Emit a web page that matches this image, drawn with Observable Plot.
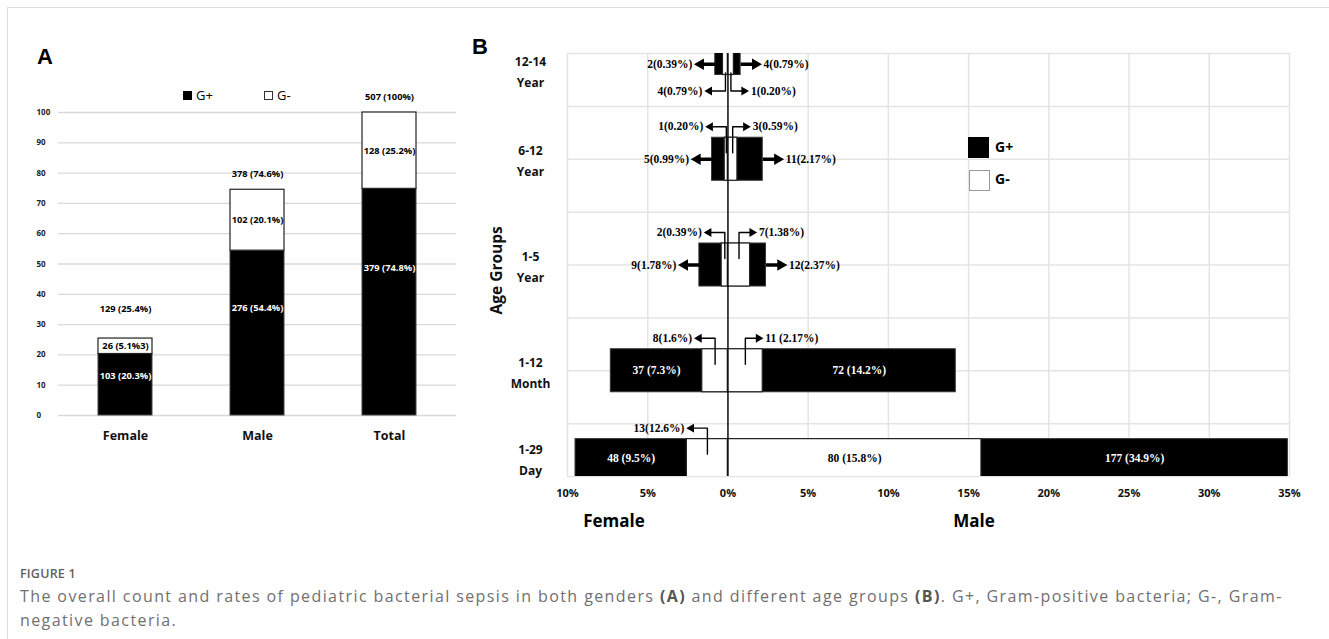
<!DOCTYPE html>
<html>
<head>
<meta charset="utf-8">
<script src="https://cdn.jsdelivr.net/npm/d3@7"></script>
<script src="https://cdn.jsdelivr.net/npm/@observablehq/plot@0.6"></script>
<style>
  html, body { margin: 0; padding: 0; background: #fff; }
  #fig { position: relative; width: 1329px; height: 639px; overflow: hidden; font-family: "Open Sans", sans-serif; }
  .frame { position: absolute; left: 7px; top: 7px; right: -5px; bottom: -5px; border-left: 1.5px solid #dcdcdc; border-top: 1.5px solid #dcdcdc; }
  .abs { position: absolute; }
  .panel-letter { position: absolute; font-family: "Liberation Sans", Arial, sans-serif; font-weight: bold; font-size: 22px; color: #000; line-height: 1; }
  .sw { position: absolute; box-sizing: border-box; }
  .leg { position: absolute; line-height: 1; color: #000; }
  svg { overflow: visible; }
</style>
</head>
<body>
<div id="fig">
  <div class="frame"></div>
  <div id="panelA" class="abs" style="left:0;top:0;"></div>
  <div id="panelB" class="abs" style="left:470px;top:0;"></div>

  <div class="panel-letter" style="left:37px;top:46px;">A</div>
  <div class="panel-letter" style="left:472px;top:36px;">B</div>

  <!-- legend A -->
  <div class="sw" style="left:183px;top:91px;width:9px;height:9px;background:#000;"></div>
  <div class="leg" style="left:196px;top:89px;font-size:13px;">G+</div>
  <div class="sw" style="left:264px;top:91px;width:9px;height:9px;background:#fff;border:1px solid #333;"></div>
  <div class="leg" style="left:277px;top:89px;font-size:13px;">G-</div>

  <!-- legend B -->
  <div class="sw" style="left:968px;top:137px;width:21px;height:21px;background:#000;"></div>
  <div class="leg" style="left:995px;top:140px;font-size:14px;font-weight:bold;">G+</div>
  <div class="sw" style="left:969px;top:170px;width:21px;height:21px;background:#fff;border:1px solid #999;"></div>
  <div class="leg" style="left:995px;top:172px;font-size:14px;font-weight:bold;">G-</div>

  <!-- gender titles under B -->
  <div class="leg" style="left:564px;top:512px;width:100px;text-align:center;font-size:17px;font-weight:bold;">Female</div>
  <div class="leg" style="left:924px;top:512px;width:100px;text-align:center;font-size:17px;font-weight:bold;">Male</div>

  <!-- caption -->
  <div class="leg" style="left:20px;top:568px;font-size:12.5px;font-weight:600;color:#5f5f5f;letter-spacing:0.2px;">FIGURE 1</div>
  <div class="leg" style="left:20px;top:584px;font-size:16px;line-height:24px;color:#707070;letter-spacing:1.4px;white-space:nowrap;">
    The overall count and rates of pediatric bacterial sepsis in both genders <b style="color:#555">(A)</b> and different age groups <b style="color:#555">(B)</b>. G+, Gram-positive bacteria; G-, Gram-<br>negative bacteria.
  </div>
</div>

<script>
// ---------------- Panel A data ----------------
const sexes = ["Female", "Male", "Total"];
const gPosA = [20.3, 54.4, 74.8];
const gNegA = [5.1, 20.1, 25.2];
const gPosLabelA = ["103 (20.3%)", "276 (54.4%)", "379 (74.8%)"];
const gNegLabelA = ["26 (5.1%3)", "102 (20.1%)", "128 (25.2%)"];
const totalLabelA = ["129 (25.4%)", "378 (74.6%)", "507 (100%)"];
const yTicksA = [0, 10, 20, 30, 40, 50, 60, 70, 80, 90, 100];

// ---------------- Panel B data ----------------
const ageGroups = ["12-14\nYear", "6-12\nYear", "1-5\nYear", "1-12\nMonth", "1-29\nDay"];
const posFemale = [0.79, 0.99, 1.78, 7.3, 9.5];
const posMale = [0.79, 2.17, 2.37, 14.2, 34.9];
const negFemale = [0.31, 0.20, 0.39, 1.6, 2.56];
const negMale = [0.37, 0.59, 1.38, 2.17, 15.8];
const posFemaleLabel = ["2(0.39%)", "5(0.99%)", "9(1.78%)", "37 (7.3%)", "48 (9.5%)"];
const posMaleLabel = ["4(0.79%)", "11(2.17%)", "12(2.37%)", "72 (14.2%)", "177 (34.9%)"];
const negFemaleLabel = ["4(0.79%)", "1(0.20%)", "2(0.39%)", "8(1.6%)", "13(12.6%)"];
const negMaleLabel = ["1(0.20%)", "3(0.59%)", "7(1.38%)", "11 (2.17%)", "80 (15.8%)"];
const xTicksB = [-10, -5, 0, 5, 10, 15, 20, 25, 30, 35];

// ---------------- Panel A ----------------
const dataA = sexes.map((s, i) => ({sex: s, pos: gPosA[i], neg: gNegA[i],
  lp: gPosLabelA[i], ln: gNegLabelA[i], lt: totalLabelA[i]}));
const topDy = [-30, -16, -15];
const fontA = "'Open Sans', sans-serif";

const plotA = Plot.plot({
  width: 470, height: 460,
  marginLeft: 58, marginRight: 14, marginTop: 112, marginBottom: 45,
  style: {background: "transparent", fontFamily: fontA, overflow: "visible"},
  x: {domain: sexes, paddingInner: 0.59, paddingOuter: 0.295, axis: null},
  y: {domain: [0, 100], axis: null},
  marks: [
    Plot.ruleY(yTicksA, {stroke: "#d9d9d9", strokeWidth: 1.3}),
    Plot.text(yTicksA, {frameAnchor: "left", y: d => d, dx: -22, text: d => String(d), textAnchor: "start",
      fontSize: 8, fontWeight: "bold", fill: "#222", fontFamily: fontA}),
    Plot.axisX({tickSize: 0, tickPadding: 16, fontSize: 12.5, fontWeight: "bold", label: null, fill: "#111"}),
    Plot.barY(dataA, {x: "sex", y1: 0, y2: "pos", fill: "#000", stroke: "#444", strokeWidth: 1}),
    Plot.barY(dataA, {x: "sex", y1: "pos", y2: d => d.pos + d.neg, fill: "#fff", stroke: "#222", strokeWidth: 1.2}),
    Plot.text(dataA, {x: "sex", y: d => d.pos * 0.65, text: "lp", fill: "#fff", fontSize: 9.3, fontWeight: "bold", fontFamily: fontA}),
    Plot.text(dataA, {x: "sex", y: d => d.pos + d.neg / 2, text: "ln", fill: "#000", fontSize: 9.3, fontWeight: "bold", fontFamily: fontA}),
    ...dataA.map((d, i) => Plot.text([d], {x: "sex", y: e => e.pos + e.neg, dy: topDy[i], text: "lt", fill: "#000", fontSize: 9.3, fontWeight: "bold", fontFamily: fontA}))
  ]
});
document.getElementById("panelA").appendChild(plotA);

// ---------------- Panel B ----------------
const W_B = 859, H_B = 540, mL = 97, mR = 40, mT = 53, mB = 64;
const kx = (W_B - mL - mR) / 45;  // px per percent
const ky = (H_B - mT - mB) / 8;   // px per grid unit
const rowCenter = [8, 6, 4, 2, 0.3];
const half = 21.5 / ky;
const fontB = "'Liberation Serif', 'Times New Roman', serif";

const rectsBlack = [], rectsWhite = [], thick = [], thinPts = [], headsThick = [], headsThin = [], txt = [];
const visMid = [];
ageGroups.forEach((g, i) => {
  const c = rowCenter[i];
  const top = Math.min(c + half, 8), bot = Math.max(c - half, 0), mid = (top + bot) / 2;
  visMid.push(mid);
  rectsBlack.push({x1: -posFemale[i], x2: 0, y1: c - half, y2: c + half});
  rectsBlack.push({x1: 0, x2: posMale[i], y1: c - half, y2: c + half});
  rectsWhite.push({x1: -negFemale[i], x2: 0, y1: c - half, y2: c + half});
  rectsWhite.push({x1: 0, x2: negMale[i], y1: c - half, y2: c + half});
  [[-1, posFemale[i], negFemale[i], posFemaleLabel[i], negFemaleLabel[i]],
   [1, posMale[i], negMale[i], posMaleLabel[i], negMaleLabel[i]]].forEach(([s, gp, gn, lp, ln]) => {
    const anchor = s > 0 ? "start" : "end";
    const rot = s > 0 ? 90 : -90;
    if ((gp - gn) * kx > 75) {
      txt.push({x: s * (gp + gn) / 2, y: mid, text: lp, anchor: "middle", fill: "#fff"});
    } else {
      const x0 = s * gp, tip = s * (gp + 21 / kx);
      thick.push({x1: x0, x2: tip - s * 6 / kx, y: mid});
      headsThick.push({x: tip - s * 6.3 / kx, y: mid, rot});
      txt.push({x: tip + s * 2 / kx, y: mid, text: lp, anchor, fill: "#000"});
    }
    if (gn * kx > 75) {
      txt.push({x: s * gn / 2, y: mid, text: ln, anchor: "middle", fill: "#000"});
    } else {
      const ex = s * gn / 2;
      let ly, vy;
      if (c + half > 8) { ly = bot - 16 / ky; vy = bot + 2 / ky; }
      else { ly = top + 11 / ky; vy = top - 15 / ky; }
      const tip = ex + s * (s < 0 ? 21 : 18) / kx;
      const id = i + "_" + s;
      thinPts.push({id, x: ex, y: vy}, {id, x: ex, y: ly}, {id, x: tip - s * 4 / kx, y: ly});
      headsThin.push({x: tip - s * 5 / kx, y: ly, rot});
      txt.push({x: tip + s * 2 / kx, y: ly, text: ln, anchor, fill: "#000"});
    }
  });
});

const textMarks = [];
for (const a of ["start", "end", "middle"]) {
  for (const f of ["#000", "#fff"]) {
    const sub = txt.filter(t => t.anchor === a && t.fill === f);
    if (sub.length) textMarks.push(Plot.text(sub, {x: "x", y: "y", text: "text", textAnchor: a,
      fill: f, fontSize: 11.5, fontWeight: "bold", fontFamily: fontB}));
  }
}

const plotB = Plot.plot({
  width: W_B, height: H_B,
  marginLeft: mL, marginRight: mR, marginTop: mT, marginBottom: mB,
  style: {background: "transparent", fontFamily: fontA, overflow: "visible"},
  x: {domain: [-10, 35], axis: null},
  y: {domain: [0, 8], axis: null},
  marks: [
    Plot.ruleX(xTicksB, {y1: 0, y2: 8, stroke: "#e4e4e4", strokeWidth: 1.5}),
    Plot.ruleY(d3.range(0, 9), {x1: -10, x2: 35, stroke: "#e4e4e4", strokeWidth: 1.5}),
    Plot.axisX(xTicksB, {tickSize: 0, tickPadding: 13, fontSize: 11, fontWeight: "bold", label: null,
      tickFormat: d => Math.abs(d) + "%", fill: "#111"}),
    Plot.rect(rectsBlack, {x1: "x1", x2: "x2", y1: "y1", y2: "y2", fill: "#000", stroke: "#333", strokeWidth: 1, clip: true}),
    Plot.rect(rectsWhite, {x1: "x1", x2: "x2", y1: "y1", y2: "y2", fill: "#fff", stroke: "#222", strokeWidth: 1.2, clip: true}),
    Plot.ruleX([0], {y1: 0, y2: 8, stroke: "#111", strokeWidth: 1.5}),
    Plot.link(thick, {x1: "x1", x2: "x2", y1: "y", y2: "y", stroke: "#000", strokeWidth: 3.5}),
    Plot.dot(headsThick, {x: "x", y: "y", symbol: "triangle", r: 4.3, rotate: "rot", fill: "#000", stroke: "none"}),
    Plot.line(thinPts, {x: "x", y: "y", z: "id", stroke: "#000", strokeWidth: 1.4, curve: "linear"}),
    Plot.dot(headsThin, {x: "x", y: "y", symbol: "triangle", r: 3.3, rotate: "rot", fill: "#000", stroke: "none"}),
    ...textMarks,
    Plot.text(ageGroups, {frameAnchor: "left", y: (d, i) => visMid[i] - (i === 0 ? 0.1 : 0), dx: -37, text: d => d,
      textAnchor: "middle", lineHeight: 1.75, fontSize: 12, fontWeight: "bold", fill: "#111", fontFamily: fontA}),
    Plot.text(["Age Groups"], {frameAnchor: "left", y: () => 3.9, dx: -70, text: d => d, rotate: -90,
      textAnchor: "middle", fontSize: 15.5, fontWeight: "bold", fill: "#111", fontFamily: fontA})
  ]
});
document.getElementById("panelB").appendChild(plotB);
</script>
</body>
</html>
